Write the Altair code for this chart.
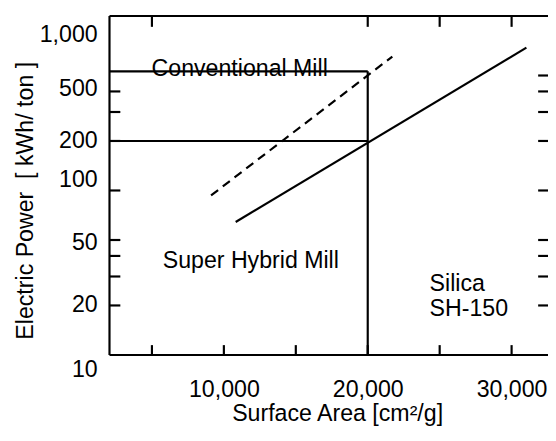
import altair as alt
import pandas as pd

FONT = "Liberation Sans"
FS = 23.5
LW = 2.2

# ---- data ----
# Surface area [cm2/g] vs electric power [kWh/ton]
hybrid_x = [10820, 31030]
hybrid_y = [64.3, 738]
conv_x = [9110, 21710]
conv_y = [93.3, 652]

ref_area = 20000
conv_power = 530
hybrid_power = 200

x_tick_labels = [10000, 20000, 30000]
x_bottom_ticks = [5000, 10000, 15000, 20000, 25000, 30000]
x_top_ticks = [5000, 20000, 25000, 30000]
y_left_ticks = [20, 30, 40, 50, 100, 200, 300, 400]
y_right_ticks = [20, 30, 40, 50, 100, 200, 300, 400, 500]
y_label_text = ["10", "20", "50", "100", "200", "500", "1,000"]
y_label_pos = [8.1, 20, 48, 115, 200, 414, 883]

ann_text = ["Conventional Mill", "Super Hybrid Mill", "Silica", "SH-150"]
ann_x = [11100, 5750, 24300, 24300]
ann_y = [499, 33.6, 24.6, 17.2]
ann_align = ["center", "left", "left", "left"]

X_DOMAIN = [2050, 32530]
Y_DOMAIN = [10, 1150]

W, H = 445, 344

xscale = alt.Scale(domain=X_DOMAIN, nice=False, zero=False)
yscale = alt.Scale(type="log", domain=Y_DOMAIN, nice=False)

xaxis = alt.Axis(
    values=x_tick_labels, labelExpr="format(datum.value, ',.0f')",
    ticks=False, tickSize=0, domain=False,
    grid=False, labelPadding=42, labelBaseline="alphabetic", labelFlush=False,
    labelOverlap=False, labelFontSize=FS, labelFont=FONT, labelColor="black",
    title="Surface Area [cm²/g]", titleFontSize=FS, titleFont=FONT,
    titleFontWeight="normal", titleColor="black", titleX=231, titleY=66,
    titleBaseline="alphabetic", titleAlign="center",
)
yaxis = alt.Axis(
    labels=False, ticks=False, tickSize=0, domain=False, grid=False,
    title="Electric Power\u00a0 [ kWh/ ton ]", titleFontSize=FS, titleFont=FONT,
    titleFontWeight="normal", titleColor="black", titleX=-78, titleY=187,
    titleBaseline="alphabetic", titleAlign="center", titleAngle=-90,
)

def X(field="x"):
    return alt.X(field, type="quantitative", scale=xscale, axis=xaxis)

def Y(field="y"):
    return alt.Y(field, type="quantitative", scale=yscale, axis=yaxis)

lines_df = pd.DataFrame({
    "x": hybrid_x + conv_x,
    "y": hybrid_y + conv_y,
    "s": ["hybrid"] * len(hybrid_x) + ["conv"] * len(conv_x),
})

hybrid_line = alt.Chart(lines_df[lines_df.s == "hybrid"]).mark_line(
    color="black", strokeWidth=LW).encode(x=X(), y=Y())
conv_line = alt.Chart(lines_df[lines_df.s == "conv"]).mark_line(
    color="black", strokeWidth=LW, strokeDash=[9, 6]).encode(x=X(), y=Y())

hrules_df = pd.DataFrame({
    "x": [X_DOMAIN[0], X_DOMAIN[0]],
    "x2": [ref_area, ref_area],
    "y": [conv_power, hybrid_power],
})
hrules = alt.Chart(hrules_df).mark_rule(color="black", strokeWidth=LW).encode(
    x=X(), x2="x2", y=Y())

vrule_df = pd.DataFrame({"x": [ref_area], "y": [Y_DOMAIN[0]], "y2": [conv_power]})
vrule = alt.Chart(vrule_df).mark_rule(color="black", strokeWidth=LW).encode(
    x=X(), y=Y(), y2="y2")

dummy = pd.DataFrame({"a": [0]})
frame_left = alt.Chart(dummy).mark_rule(color="black", strokeWidth=LW).encode(
    x=alt.value(0), y=alt.value(0), y2=alt.value(H))
frame_top = alt.Chart(dummy).mark_rule(color="black", strokeWidth=LW).encode(
    x=alt.value(0), x2=alt.value(W), y=alt.value(0))
frame_bottom = alt.Chart(dummy).mark_rule(color="black", strokeWidth=LW).encode(
    x=alt.value(0), x2=alt.value(W), y=alt.value(H))

left_ticks = alt.Chart(pd.DataFrame({"y": y_left_ticks})).mark_rule(
    color="black", strokeWidth=LW).encode(y=Y(), x=alt.value(0), x2=alt.value(11))
right_ticks = alt.Chart(pd.DataFrame({"y": y_right_ticks})).mark_rule(
    color="black", strokeWidth=LW).encode(y=Y(), x=alt.value(W - 10), x2=alt.value(W))
bottom_ticks = alt.Chart(pd.DataFrame({"x": x_bottom_ticks})).mark_rule(
    color="black", strokeWidth=LW).encode(x=X(), y=alt.value(H - 10), y2=alt.value(H))
top_ticks = alt.Chart(pd.DataFrame({"x": x_top_ticks})).mark_rule(
    color="black", strokeWidth=LW).encode(x=X(), y=alt.value(0), y2=alt.value(11))

ylabels = alt.Chart(pd.DataFrame({"y": y_label_pos, "t": y_label_text})).mark_text(
    align="right", baseline="middle", font=FONT, fontSize=FS, color="black"
).encode(y=Y(), x=alt.value(-12), text="t:N")

ann_df = pd.DataFrame({"x": ann_x, "y": ann_y, "t": ann_text, "a": ann_align})
ann_center = alt.Chart(ann_df[ann_df.a == "center"]).mark_text(
    align="center", baseline="alphabetic", font=FONT, fontSize=FS, color="black"
).encode(x=X(), y=Y(), text="t:N")
ann_left = alt.Chart(ann_df[ann_df.a == "left"]).mark_text(
    align="left", baseline="alphabetic", font=FONT, fontSize=FS, color="black"
).encode(x=X(), y=Y(), text="t:N")

chart = alt.layer(
    hrules, vrule, conv_line, hybrid_line,
    frame_left, frame_top, frame_bottom,
    left_ticks, right_ticks, bottom_ticks, top_ticks,
    ylabels, ann_center, ann_left,
).properties(
    width=W, height=H,
    autosize=alt.AutoSizeParams(type="none"),
    padding={"left": 103, "top": 5, "right": 0, "bottom": 72},
    background="white",
).configure_view(
    strokeWidth=0
).configure_axis(
    labelFont=FONT, titleFont=FONT
)

chart.save("out.html", embed_options={"renderer": "svg", "actions": False})
